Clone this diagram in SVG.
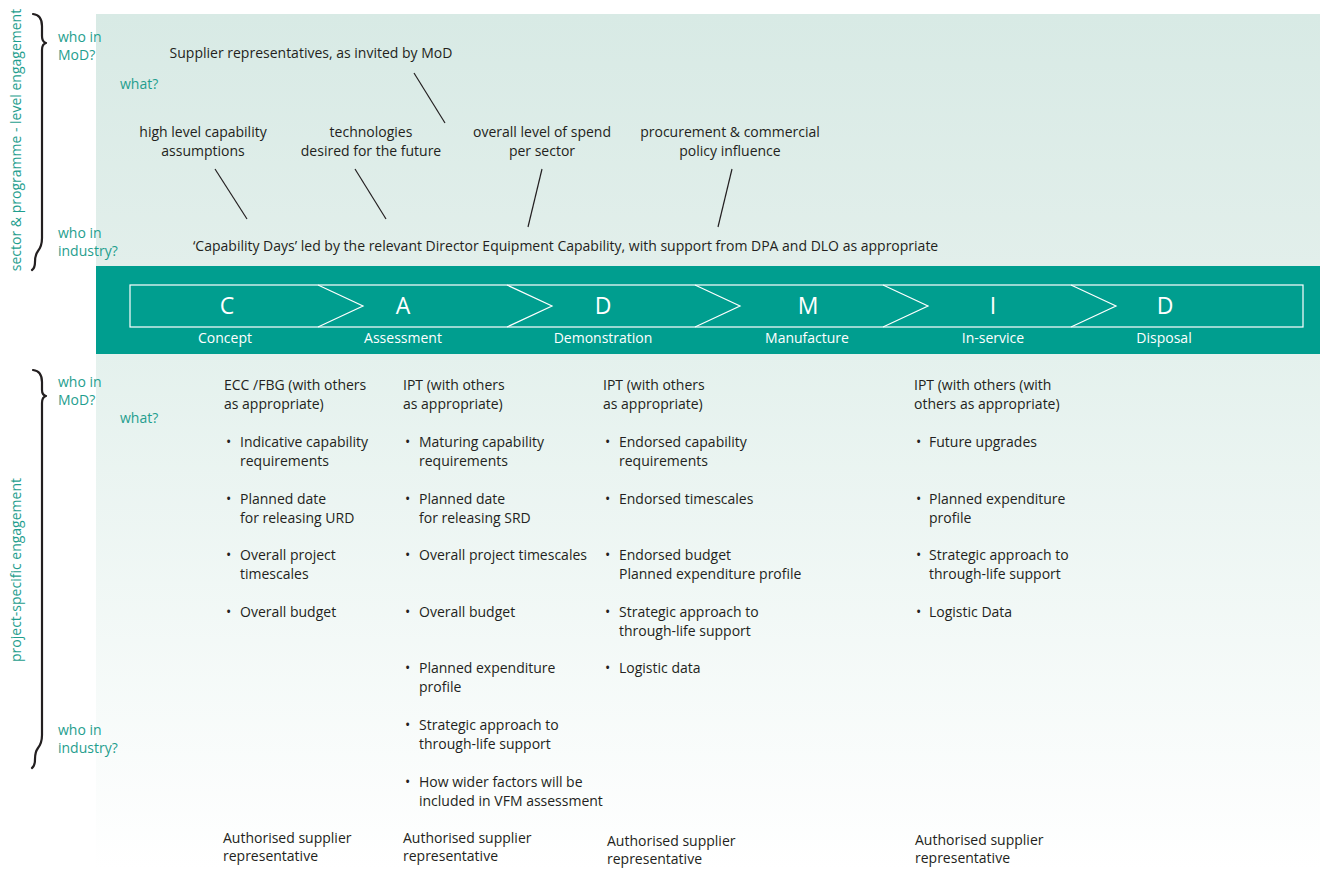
<svg xmlns="http://www.w3.org/2000/svg" width="1320" height="869" viewBox="0 0 1320 869">
<defs>
<linearGradient id="gTop" x1="0" y1="0" x2="0" y2="1">
<stop offset="0" stop-color="#d8eae5"/>
<stop offset="1" stop-color="#e2efeb"/>
</linearGradient>
<linearGradient id="gBot" x1="0" y1="0" x2="0" y2="1">
<stop offset="0" stop-color="#e4f1ed"/>
<stop offset="1" stop-color="#ffffff"/>
</linearGradient>
<style>
text{font-family:"Open Sans","Noto Sans",sans-serif;font-size:14px;fill:#231f20}
.t{fill:#1f9e8e}
.w{fill:#ffffff}
.big{font-size:23px}
.m{text-anchor:middle}
.ln{stroke:#231f20;stroke-width:1.2;fill:none}
.br{stroke:#231f20;stroke-width:2.2;fill:none;stroke-linecap:round;stroke-linejoin:round}
.chev{stroke:#ffffff;stroke-width:1.2;fill:none}
</style>
</defs>
<rect width="1320" height="869" fill="#ffffff"/>
<rect x="96" y="14" width="1224" height="252" fill="url(#gTop)"/>
<rect x="96" y="354" width="1224" height="515" fill="url(#gBot)"/>
<rect x="96" y="266" width="1224" height="88" fill="#009e8f"/>

<g id="side-top">
<path class="br" d="M33,14 Q42,15 42,26 L42,36 Q42,42 46,43 Q42,44 42,50 L42,238 Q42,246 38,251 Q35,255 35,262 Q35,268 32,270"/>
<text class="t" transform="translate(21,140) rotate(-90)" text-anchor="middle">sector &amp; programme - level engagement</text>
<text class="t" x="58" y="42">who in</text>
<text class="t" x="58" y="60">MoD?</text>
<text class="t" x="120" y="89">what?</text>
<text class="t" x="58" y="238">who in</text>
<text class="t" x="58" y="256">industry?</text>
</g>

<g id="side-bottom">
<path class="br" d="M33,370 Q42,371 42,382 L42,390 Q42,395 46,396 Q42,397 42,403 L42,735 Q42,743 38,748 Q35,752 35,759 Q35,766 32,768"/>
<text class="t" transform="translate(21,570) rotate(-90)" text-anchor="middle">project-specific engagement</text>
<text class="t" x="58" y="387">who in</text>
<text class="t" x="58" y="405">MoD?</text>
<text class="t" x="120" y="423">what?</text>
<text class="t" x="58" y="735">who in</text>
<text class="t" x="58" y="753">industry?</text>
</g>

<g id="top-notes">
<text class="m" x="311" y="58">Supplier representatives, as invited by MoD</text>
<text class="m" x="203" y="137">high level capability</text>
<text class="m" x="203" y="156">assumptions</text>
<text class="m" x="371" y="137">technologies</text>
<text class="m" x="371" y="156">desired for the future</text>
<text class="m" x="542" y="137">overall level of spend</text>
<text class="m" x="542" y="156">per sector</text>
<text class="m" x="730" y="137">procurement &amp; commercial</text>
<text class="m" x="730" y="156">policy influence</text>
<text x="193" y="251">‘Capability Days’ led by the relevant Director Equipment Capability, with support from DPA and DLO as appropriate</text>
</g>

<g id="connectors">
<line class="ln" x1="414" y1="73" x2="445" y2="123"/>
<line class="ln" x1="215" y1="169" x2="247" y2="219"/>
<line class="ln" x1="355" y1="169" x2="386" y2="219"/>
<line class="ln" x1="542" y1="169" x2="528" y2="227"/>
<line class="ln" x1="732" y1="169" x2="718" y2="227"/>
</g>

<g id="process">
<rect class="chev" x="130" y="285" width="1173" height="42"/>
<path class="chev" d="M318,285 L363,306 L318,327"/>
<path class="chev" d="M507,285 L552,306 L507,327"/>
<path class="chev" d="M695,285 L740,306 L695,327"/>
<path class="chev" d="M883,285 L928,306 L883,327"/>
<path class="chev" d="M1071,285 L1116,306 L1071,327"/>
<text class="w big m" x="227" y="314">C</text>
<text class="w big m" x="403" y="314">A</text>
<text class="w big m" x="603" y="314">D</text>
<text class="w big m" x="808" y="314">M</text>
<text class="w big m" x="993" y="314">I</text>
<text class="w big m" x="1165" y="314">D</text>
<text class="w m" x="225" y="343">Concept</text>
<text class="w m" x="403" y="343">Assessment</text>
<text class="w m" x="603" y="343">Demonstration</text>
<text class="w m" x="807" y="343">Manufacture</text>
<text class="w m" x="993" y="343">In-service</text>
<text class="w m" x="1164" y="343">Disposal</text>
</g>

<g id="col-concept">
<text x="224" y="390">ECC /FBG (with others</text>
<text x="224" y="409">as appropriate)</text>
<text x="226" y="447">•</text><text x="240" y="447">Indicative capability</text>
<text x="240" y="466">requirements</text>
<text x="226" y="504">•</text><text x="240" y="504">Planned date</text>
<text x="240" y="523">for releasing URD</text>
<text x="226" y="560">•</text><text x="240" y="560">Overall project</text>
<text x="240" y="579">timescales</text>
<text x="226" y="617">•</text><text x="240" y="617">Overall budget</text>
<text x="223" y="843">Authorised supplier</text>
<text x="223" y="861">representative</text>
</g>

<g id="col-assessment">
<text x="403" y="390">IPT (with others</text>
<text x="403" y="409">as appropriate)</text>
<text x="405" y="447">•</text><text x="419" y="447">Maturing capability</text>
<text x="419" y="466">requirements</text>
<text x="405" y="504">•</text><text x="419" y="504">Planned date</text>
<text x="419" y="523">for releasing SRD</text>
<text x="405" y="560">•</text><text x="419" y="560">Overall project timescales</text>
<text x="405" y="617">•</text><text x="419" y="617">Overall budget</text>
<text x="405" y="673">•</text><text x="419" y="673">Planned expenditure</text>
<text x="419" y="692">profile</text>
<text x="405" y="730">•</text><text x="419" y="730">Strategic approach to</text>
<text x="419" y="749">through-life support</text>
<text x="405" y="787">•</text><text x="419" y="787">How wider factors will be</text>
<text x="419" y="806">included in VFM assessment</text>
<text x="403" y="843">Authorised supplier</text>
<text x="403" y="861">representative</text>
</g>

<g id="col-demonstration">
<text x="603" y="390">IPT (with others</text>
<text x="603" y="409">as appropriate)</text>
<text x="605" y="447">•</text><text x="619" y="447">Endorsed capability</text>
<text x="619" y="466">requirements</text>
<text x="605" y="504">•</text><text x="619" y="504">Endorsed timescales</text>
<text x="605" y="560">•</text><text x="619" y="560">Endorsed budget</text>
<text x="619" y="579">Planned expenditure profile</text>
<text x="605" y="617">•</text><text x="619" y="617">Strategic approach to</text>
<text x="619" y="636">through-life support</text>
<text x="605" y="673">•</text><text x="619" y="673">Logistic data</text>
<text x="607" y="846">Authorised supplier</text>
<text x="607" y="864">representative</text>
</g>

<g id="col-inservice">
<text x="914" y="390">IPT (with others (with</text>
<text x="914" y="409">others as appropriate)</text>
<text x="916" y="447">•</text><text x="929" y="447">Future upgrades</text>
<text x="916" y="504">•</text><text x="929" y="504">Planned expenditure</text>
<text x="929" y="523">profile</text>
<text x="916" y="560">•</text><text x="929" y="560">Strategic approach to</text>
<text x="929" y="579">through-life support</text>
<text x="916" y="617">•</text><text x="929" y="617">Logistic Data</text>
<text x="915" y="845">Authorised supplier</text>
<text x="915" y="863">representative</text>
</g>
</svg>
